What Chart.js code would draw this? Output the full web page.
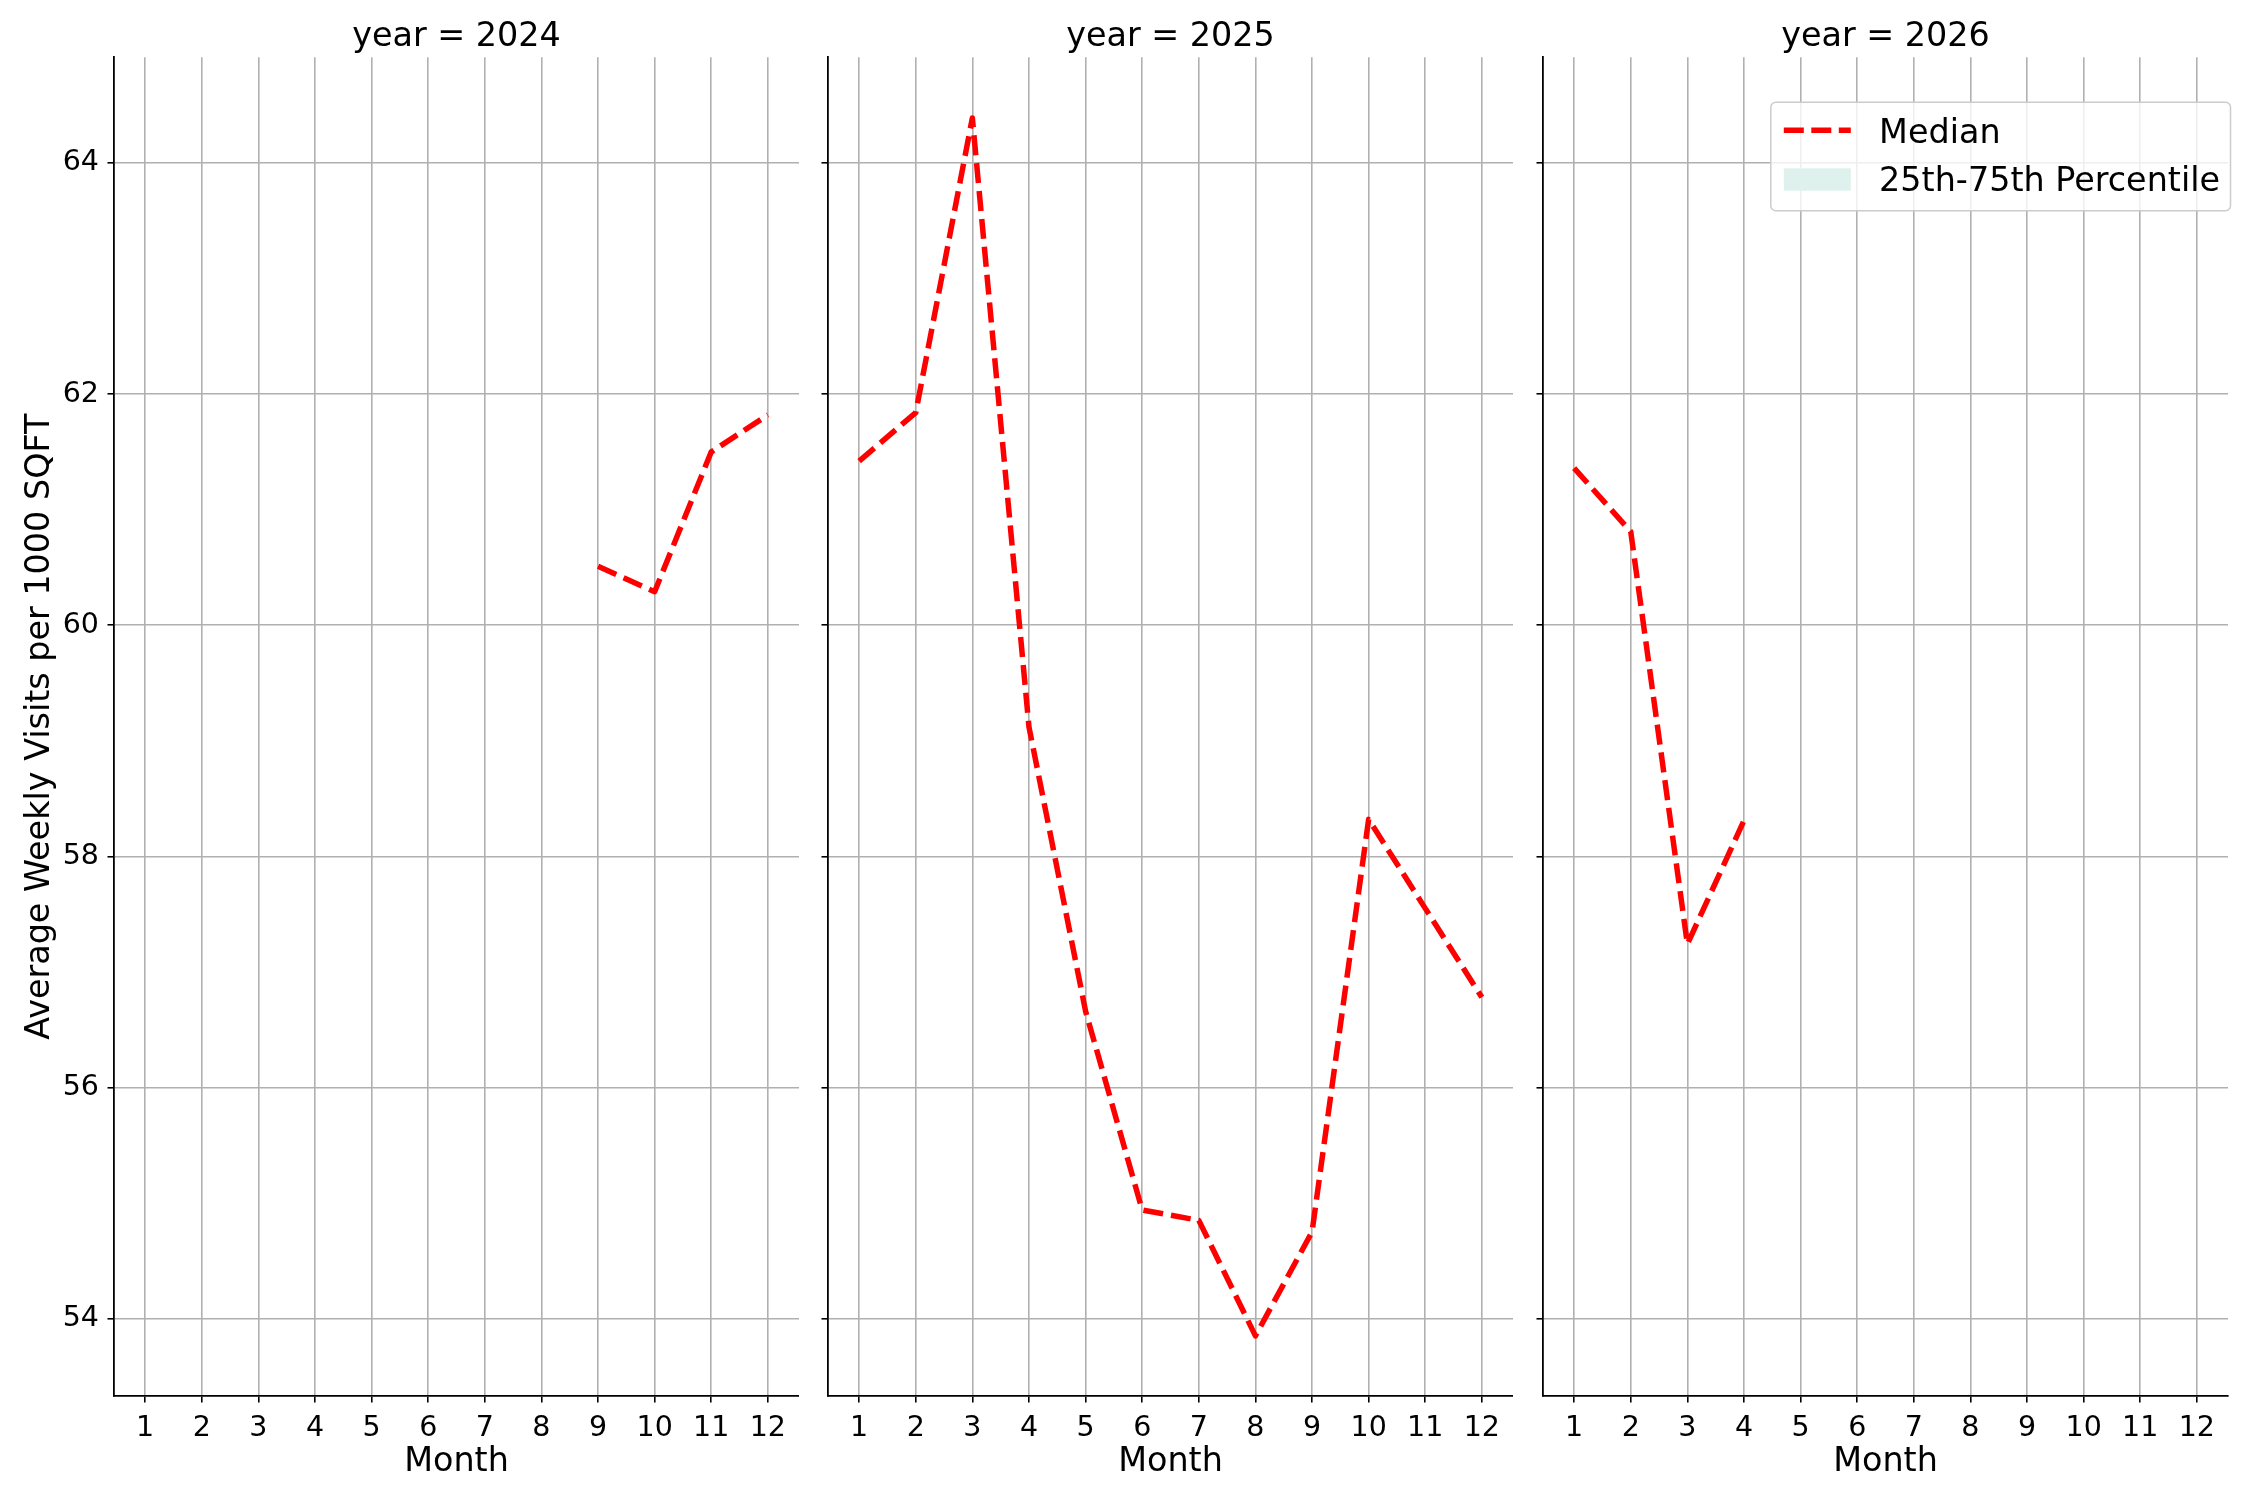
<!DOCTYPE html>
<html>
<head>
<meta charset="utf-8">
<script src="https://cdn.jsdelivr.net/npm/chart.js@4.4.1/dist/chart.umd.min.js"></script>
<style>
  html, body { margin: 0; padding: 0; background: #fff; }
  body { width: 2250px; height: 1500px; position: relative; overflow: hidden; }
  canvas { position: absolute; top: 0; }
</style>
</head>
<body>
<canvas id="c2024" width="799" height="1500" style="left:0px;width:799px;height:1500px"></canvas>
<canvas id="c2025" width="705" height="1500" style="left:808px;width:705px;height:1500px"></canvas>
<canvas id="c2026" width="727" height="1500" style="left:1523px;width:727px;height:1500px"></canvas>
<script>
// facet data: median weekly visits per 1000 sqft, one array per year (null = no data)
const months = [1, 2, 3, 4, 5, 6, 7, 8, 9, 10, 11, 12];
const years = [2024, 2025, 2026];
const median2024 = [null, null, null, null, null, null, null, null, 60.51, 60.29, 61.50, 61.82];
const median2025 = [61.42, 61.84, 64.39, 59.12, 56.66, 54.94, 54.85, 53.85, 54.75, 58.32, 57.55, 56.78];
const median2026 = [61.36, 60.81, 57.24, 58.31, null, null, null, null, null, null, null, null];
const yTicks = [54, 56, 58, 60, 62, 64];
const yLabel = 'Average Weekly Visits per 1000 SQFT';
const xLabel = 'Month';
const legendLabels = ['Median', '25th-75th Percentile'];

const Y_MIN = 53.33, Y_MAX = 64.915;
const X_MIN = 0.45, X_MAX = 12.55;
const RED = '#ff0000';
const BAND = '#dff1ec';
const GRID = '#b0b0b0';
const TICK_SIZE = 28.5;

Chart.defaults.font.family = '"DejaVu Sans", sans-serif';
Chart.defaults.color = '#000';

// legend sits inside the last panel, upper right
const facetLegend = {
    id: 'facetLegend',
    afterDraw(chart) {
        const ctx = chart.ctx;
        const ca = chart.chartArea;
        const w = 459.7, h = 108.4;
        const x0 = ca.right + 2.5 - w;
        const y0 = ca.top + 45;
        ctx.save();
        ctx.beginPath();
        ctx.roundRect(x0, y0, w, h, 5);
        ctx.fillStyle = 'rgba(255,255,255,0.8)';
        ctx.fill();
        ctx.strokeStyle = '#cccccc';
        ctx.lineWidth = 1.5;
        ctx.stroke();

        ctx.beginPath();
        ctx.setLineDash([20, 7.5]);
        ctx.lineCap = 'butt';
        ctx.strokeStyle = RED;
        ctx.lineWidth = 5.5;
        ctx.moveTo(x0 + 13, y0 + 28);
        ctx.lineTo(x0 + 80, y0 + 28);
        ctx.stroke();
        ctx.setLineDash([]);

        ctx.fillStyle = BAND;
        ctx.fillRect(x0 + 13, y0 + 66, 67, 22.4);

        ctx.fillStyle = '#000';
        ctx.font = '33.4px "DejaVu Sans"';
        ctx.textBaseline = 'alphabetic';
        ctx.textAlign = 'left';
        ctx.fillText(legendLabels[0], x0 + 108.3, y0 + 40.4);
        ctx.fillText(legendLabels[1], x0 + 108.3, y0 + 88.4);
        ctx.restore();
    }
};

function toPoints(values) {
    const pts = [];
    months.forEach((m, i) => {
        if (values[i] !== null) pts.push({ x: m, y: values[i] });
    });
    return pts;
}

function axisGrid() {
    return { color: GRID, lineWidth: 1.6, tickColor: '#000', tickLength: 6.5, tickWidth: 1.6 };
}

function makePanel(id, year, values, first, last) {
    const ctx = document.getElementById(id).getContext('2d');
    return new Chart(ctx, {
        type: 'line',
        data: {
            datasets: [{
                label: legendLabels[0],
                data: toPoints(values),
                borderColor: RED,
                backgroundColor: RED,
                borderWidth: 5.5,
                borderDash: [20, 8],
                borderCapStyle: 'butt',
                borderJoinStyle: 'round',
                pointRadius: 0,
                tension: 0,
                fill: false,
            }]
        },
        options: {
            responsive: false,
            animation: false,
            devicePixelRatio: 1,
            layout: { padding: { left: 0, top: 0, bottom: 0, right: last ? 22 : 0 } },
            plugins: {
                legend: { display: false },
                tooltip: { enabled: false },
                title: {
                    display: true,
                    text: 'year = ' + year,
                    fullSize: false,
                    color: '#000',
                    font: { size: 33.4, weight: 'normal', lineHeight: 1.2 },
                    padding: { top: 17.2, bottom: 0 },
                },
            },
            scales: {
                x: {
                    type: 'linear',
                    min: X_MIN,
                    max: X_MAX,
                    afterBuildTicks: s => { s.ticks = months.map(m => ({ value: m })); },
                    afterFit: s => { s.height = 104; },
                    ticks: {
                        color: '#000',
                        font: { size: TICK_SIZE },
                        padding: 8.5,
                        maxRotation: 0,
                        autoSkip: false,
                        callback: v => String(v),
                    },
                    grid: axisGrid(),
                    border: { color: '#000', width: 1.8 },
                    title: {
                        display: true,
                        text: xLabel,
                        color: '#000',
                        font: { size: 33.4, lineHeight: 1.2 },
                        padding: { top: 0, bottom: 17.2 },
                    },
                },
                y: {
                    type: 'linear',
                    min: Y_MIN,
                    max: Y_MAX,
                    afterBuildTicks: s => { s.ticks = yTicks.map(v => ({ value: v })); },
                    afterFit: s => { s.width = first ? 114 : 20; },
                    ticks: {
                        color: '#000',
                        font: { size: TICK_SIZE },
                        padding: 8.5,
                        callback: v => first ? String(v) : '',
                    },
                    grid: axisGrid(),
                    border: { color: '#000', width: 1.8 },
                    title: {
                        display: first,
                        text: yLabel,
                        color: '#000',
                        font: { size: 33.4, lineHeight: 1.2 },
                        padding: { top: 20, bottom: 0 },
                    },
                },
            },
        },
        plugins: last ? [facetLegend] : [],
    });
}

makePanel('c2024', years[0], median2024, true, false);
makePanel('c2025', years[1], median2025, false, false);
makePanel('c2026', years[2], median2026, false, true);
</script>
</body>
</html>
